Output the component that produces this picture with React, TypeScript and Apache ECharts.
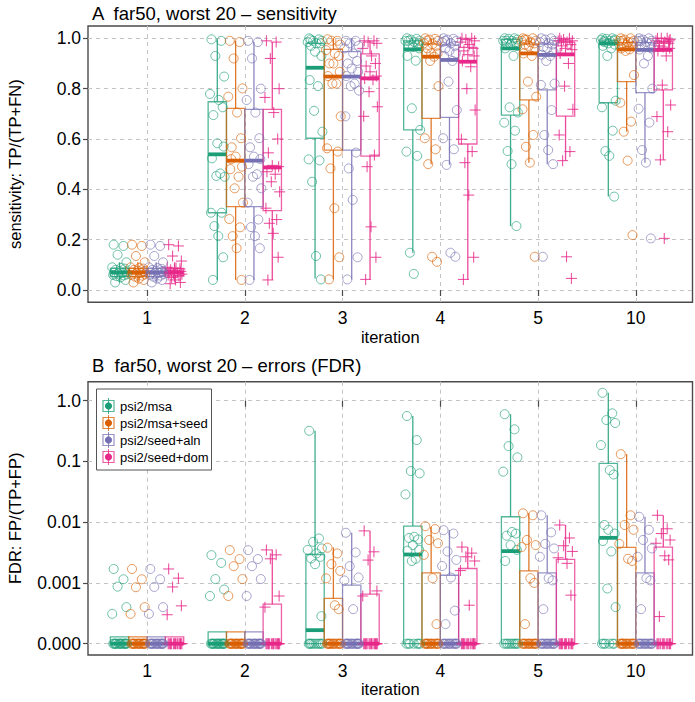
import React, { useEffect, useRef } from "react";
import * as echarts from "echarts";

// ---------- data ----------
const ITERATIONS = ["1", "2", "3", "4", "5", "10"];
const METHODS = ["psi2/msa", "psi2/msa+seed", "psi2/seed+aln", "psi2/seed+dom"];
const COLORS = ["#1B9E77", "#D95F02", "#7570B3", "#E7298A"];
const N_CASES = 20;

const SENS_TICKS = [0, 0.2, 0.4, 0.6, 0.8, 1.0];
const FDR_TICKS = [0, 0.001, 0.01, 0.1, 1.0];
const FDR_TICK_LABELS = ["0.000", "0.001", "0.01", "0.1", "1.0"];

// sensitivity values per iteration (20 worst cases)
const sensMsa = [
  [0.18, 0.175, 0.14, 0.11, 0.09, 0.088, 0.085, 0.08, 0.075, 0.072, 0.07, 0.068, 0.065, 0.062, 0.06, 0.058, 0.055, 0.05, 0.04, 0.03],
  [0.996, 0.99, 0.93, 0.848, 0.779, 0.755, 0.726, 0.695, 0.583, 0.57, 0.523, 0.463, 0.453, 0.45, 0.307, 0.307, 0.254, 0.214, 0.13, 0.04],
  [1.0, 0.996, 0.99, 0.99, 0.985, 0.98, 0.98, 0.97, 0.947, 0.93, 0.834, 0.81, 0.712, 0.629, 0.519, 0.515, 0.43, 0.135, 0.042, 0.995],
  [1.0, 0.998, 0.995, 0.99, 0.99, 0.985, 0.975, 0.97, 0.965, 0.96, 0.93, 0.911, 0.722, 0.636, 0.55, 0.533, 0.148, 0.064, 0.98, 0.99],
  [1.0, 1.0, 0.998, 0.995, 0.99, 0.99, 0.985, 0.98, 0.975, 0.97, 0.96, 0.93, 0.726, 0.705, 0.665, 0.633, 0.552, 0.5, 0.254, 0.99],
  [1.0, 1.0, 0.998, 0.995, 0.993, 0.99, 0.99, 0.985, 0.98, 0.975, 0.97, 0.96, 0.93, 0.752, 0.726, 0.633, 0.552, 0.533, 0.371, 0.99],
];
const sensMsaSeed = [
  [0.18, 0.175, 0.135, 0.11, 0.09, 0.088, 0.085, 0.08, 0.077, 0.074, 0.07, 0.068, 0.066, 0.062, 0.06, 0.057, 0.053, 0.045, 0.04, 0.03],
  [0.99, 0.985, 0.92, 0.801, 0.768, 0.705, 0.603, 0.567, 0.53, 0.49, 0.48, 0.45, 0.404, 0.347, 0.282, 0.249, 0.214, 0.166, 0.04, 0.52],
  [0.996, 0.99, 0.99, 0.975, 0.953, 0.94, 0.93, 0.9, 0.9, 0.867, 0.85, 0.82, 0.82, 0.69, 0.563, 0.55, 0.483, 0.325, 0.13, 0.042],
  [1.0, 0.998, 0.995, 0.99, 0.98, 0.977, 0.97, 0.96, 0.94, 0.94, 0.94, 0.927, 0.91, 0.81, 0.603, 0.559, 0.5, 0.132, 0.112, 0.99],
  [1.0, 1.0, 0.995, 0.99, 0.99, 0.985, 0.98, 0.975, 0.97, 0.96, 0.94, 0.93, 0.828, 0.768, 0.718, 0.616, 0.569, 0.506, 0.132, 0.995],
  [1.0, 1.0, 0.995, 0.99, 0.99, 0.985, 0.983, 0.98, 0.975, 0.97, 0.96, 0.956, 0.95, 0.854, 0.744, 0.669, 0.629, 0.514, 0.218, 0.99],
];
const sensSeedAln = [
  [0.18, 0.175, 0.135, 0.11, 0.09, 0.087, 0.084, 0.08, 0.077, 0.074, 0.07, 0.068, 0.066, 0.063, 0.06, 0.057, 0.053, 0.045, 0.04, 0.03],
  [0.99, 0.985, 0.92, 0.8, 0.755, 0.705, 0.603, 0.567, 0.53, 0.52, 0.5, 0.46, 0.45, 0.404, 0.347, 0.28, 0.25, 0.214, 0.166, 0.04],
  [0.99, 0.99, 0.98, 0.97, 0.96, 0.94, 0.91, 0.9, 0.88, 0.867, 0.85, 0.82, 0.81, 0.792, 0.69, 0.546, 0.483, 0.358, 0.13, 0.042],
  [1.0, 0.998, 0.995, 0.99, 0.985, 0.98, 0.97, 0.96, 0.95, 0.94, 0.93, 0.91, 0.828, 0.715, 0.603, 0.559, 0.497, 0.148, 0.132, 0.99],
  [1.0, 1.0, 0.995, 0.99, 0.985, 0.98, 0.975, 0.965, 0.96, 0.945, 0.935, 0.93, 0.91, 0.82, 0.815, 0.715, 0.616, 0.556, 0.5, 0.132],
  [1.0, 1.0, 0.995, 0.99, 0.99, 0.985, 0.98, 0.975, 0.97, 0.96, 0.955, 0.93, 0.9, 0.8, 0.72, 0.665, 0.556, 0.506, 0.205, 0.99],
];
const sensSeedDom = [
  [0.18, 0.175, 0.135, 0.115, 0.09, 0.087, 0.084, 0.08, 0.077, 0.074, 0.07, 0.068, 0.066, 0.063, 0.06, 0.057, 0.05, 0.04, 0.03, 0.025],
  [0.99, 0.985, 0.92, 0.8, 0.765, 0.705, 0.6, 0.545, 0.495, 0.49, 0.47, 0.46, 0.43, 0.39, 0.325, 0.28, 0.265, 0.225, 0.13, 0.04],
  [0.99, 0.99, 0.985, 0.98, 0.96, 0.93, 0.9, 0.89, 0.867, 0.85, 0.84, 0.835, 0.788, 0.728, 0.69, 0.536, 0.49, 0.251, 0.13, 0.042],
  [1.0, 1.0, 0.995, 0.99, 0.985, 0.975, 0.96, 0.95, 0.935, 0.93, 0.91, 0.887, 0.8, 0.715, 0.599, 0.55, 0.506, 0.377, 0.13, 0.042],
  [1.0, 1.0, 0.995, 0.99, 0.99, 0.985, 0.975, 0.97, 0.96, 0.955, 0.94, 0.9, 0.81, 0.718, 0.616, 0.55, 0.514, 0.132, 0.046, 0.99],
  [1.0, 1.0, 1.0, 0.995, 0.99, 0.985, 0.98, 0.97, 0.965, 0.96, 0.95, 0.93, 0.814, 0.735, 0.689, 0.629, 0.517, 0.205, 0.99, 0.98],
];

// sensitivity box stats per iteration: [whisker low, Q1, median, Q3, whisker high]
const sensBoxMsa = [
  [0.03, 0.053, 0.07, 0.086, 0.11],
  [0.04, 0.307, 0.539, 0.748, 0.996],
  [0.046, 0.603, 0.883, 0.98, 1.0],
  [0.148, 0.636, 0.956, 0.99, 1.0],
  [0.254, 0.695, 0.96, 0.996, 1.0],
  [0.371, 0.744, 0.98, 0.993, 1.0],
];
const sensBoxMsaSeed = [
  [0.03, 0.053, 0.07, 0.086, 0.11],
  [0.04, 0.331, 0.514, 0.722, 0.99],
  [0.042, 0.556, 0.848, 0.956, 1.0],
  [0.5, 0.682, 0.927, 0.977, 1.0],
  [0.506, 0.755, 0.94, 0.977, 1.0],
  [0.629, 0.828, 0.956, 0.983, 1.0],
];
const sensBoxSeedAln = [
  [0.03, 0.053, 0.07, 0.086, 0.11],
  [0.04, 0.331, 0.514, 0.718, 0.985],
  [0.042, 0.556, 0.848, 0.947, 1.0],
  [0.497, 0.686, 0.914, 0.973, 1.0],
  [0.5, 0.795, 0.934, 0.977, 1.0],
  [0.506, 0.784, 0.954, 0.983, 1.0],
];
const sensBoxSeedDom = [
  [0.03, 0.055, 0.07, 0.086, 0.11],
  [0.04, 0.315, 0.487, 0.718, 0.985],
  [0.042, 0.532, 0.841, 0.938, 0.99],
  [0.042, 0.58, 0.907, 0.964, 1.0],
  [0.514, 0.691, 0.936, 0.985, 1.0],
  [0.517, 0.795, 0.954, 0.987, 1.0],
];

// FDR: non-zero values per iteration (the rest of the 20 cases are 0)
const fdrMsa = [
  [0.0017, 0.00115, 0.00087, 0.0004, 0.00031],
  [0.00287, 0.00214, 0.00116, 0.00078, 0.00061],
  [0.32, 0.0054, 0.00475, 0.0037, 0.0035, 0.00306, 0.00269, 0.00253, 0.00204, 0.000284],
  [0.56, 0.225, 0.0695, 0.0637, 0.0287, 0.00575, 0.0052, 0.0055, 0.0042, 0.0035, 0.0034, 0.0025, 0.0023],
  [0.6, 0.338, 0.179, 0.117, 0.068, 0.0069, 0.0065, 0.006, 0.0042, 0.0035, 0.0023],
  [1.35, 0.62, 0.48, 0.43, 0.186, 0.072, 0.061, 0.009, 0.0075, 0.0065, 0.0049, 0.0033, 0.00081, 0.0004],
];
const fdrMsaSeed = [
  [0.0017, 0.00115, 0.00085, 0.0004, 0.00031],
  [0.00347, 0.00247, 0.00189, 0.00116, 0.00061],
  [0.0038, 0.00306, 0.00204, 0.00158, 0.00119, 0.00043, 0.00037],
  [0.0086, 0.0077, 0.0051, 0.0045, 0.0029, 0.0012, 0.00021],
  [0.014, 0.013, 0.0051, 0.0042, 0.0039, 0.0012, 0.001, 0.00021],
  [0.132, 0.013, 0.009, 0.0075, 0.0044, 0.0025, 0.0023],
];
const fdrSeedAln = [
  [0.0017, 0.00115, 0.00086, 0.0004, 0.00031],
  [0.00347, 0.00247, 0.00189, 0.00116, 0.00061],
  [0.0067, 0.00318, 0.00189, 0.00123, 0.0011, 0.00037],
  [0.0074, 0.0065, 0.0033, 0.0024, 0.0019, 0.00123, 0.00035, 0.00021],
  [0.013, 0.0068, 0.0044, 0.0037, 0.0027, 0.0012, 0.0011, 0.00037],
  [0.0123, 0.0075, 0.0051, 0.0037, 0.0027, 0.0012, 0.0011, 0.00037],
];
const fdrSeedDom = [
  [0.0017, 0.0012, 0.00086, 0.00042, 0.0003],
  [0.0035, 0.0029, 0.0025, 0.00061, 0.0004],
  [0.0072, 0.00326, 0.00238, 0.00074, 0.00061],
  [0.0039, 0.0031, 0.0027, 0.0023, 0.0016, 0.00043],
  [0.009, 0.0055, 0.0041, 0.0033, 0.0026, 0.0021, 0.00063],
  [0.013, 0.0078, 0.0065, 0.0051, 0.0045, 0.0028, 0.0024, 0.00028],
];

const fdrBoxMsa = [
  [0, 0, 0, 0.00013, 0.00013],
  [0, 0, 0, 0.000156, 0.000156],
  [0, 0, 0.000167, 0.00294, 0.32],
  [0, 0, 0.00294, 0.00863, 0.56],
  [0, 0, 0.00334, 0.0123, 0.6],
  [0, 0, 0.00553, 0.093, 1.35],
];
const fdrBoxMsaSeed = [
  [0, 0, 0, 0.00013, 0.00013],
  [0, 0, 0, 0.000156, 0.000156],
  [0, 0, 0, 0.000556, 0.00385],
  [0, 0, 0, 0.00147, 0.0084],
  [0, 0, 0, 0.00158, 0.014],
  [0, 0, 0, 0.00385, 0.132],
];
const fdrBoxSeedAln = [
  [0, 0, 0, 0.00013, 0.00013],
  [0, 0, 0, 0.000156, 0.000156],
  [0, 0, 0, 0.00092, 0.0067],
  [0, 0, 0, 0.00134, 0.0074],
  [0, 0, 0, 0.00147, 0.013],
  [0, 0, 0, 0.00147, 0.0123],
];
const fdrBoxSeedDom = [
  [0, 0, 0, 0.00013, 0.00013],
  [0, 0, 0, 0.000448, 0.00356],
  [0, 0, 0, 0.000654, 0.0072],
  [0, 0, 0, 0.00173, 0.0039],
  [0, 0, 0, 0.00244, 0.009],
  [0, 0, 0, 0.0039, 0.013],
];

// horizontal jitter pattern for the 20 cases (fraction of an iteration slot)
const JITTER = [-0.06, 0.04, -0.02, 0.07, -0.075, 0.015, 0.055, -0.04, 0.0, 0.065, -0.055, 0.03, -0.01, 0.075, -0.065, 0.045, -0.03, 0.01, 0.06, -0.045];

// ---------- layout / style ----------
const GROUP_OFFSETS = [-0.28125, -0.09375, 0.09375, 0.28125];
const BOX_WIDTH = 0.1875;
const X_MIN = 0.396;
const X_MAX = 6.58;
const FDR_FLOOR = 1e-4;
const FONT = "'Liberation Sans', Arial, Helvetica, sans-serif";

const fdrPos = (v: number) => Math.log10(Math.max(v, FDR_FLOOR));
const ident = (v: number) => v;

function rgba(hex: string, a: number) {
  const r = parseInt(hex.slice(1, 3), 16);
  const g = parseInt(hex.slice(3, 5), 16);
  const b = parseInt(hex.slice(5, 7), 16);
  return `rgba(${r},${g},${b},${a})`;
}

const SENS_POINTS = [sensMsa, sensMsaSeed, sensSeedAln, sensSeedDom];
const SENS_BOXES = [sensBoxMsa, sensBoxMsaSeed, sensBoxSeedAln, sensBoxSeedDom];
const FDR_POINTS = [fdrMsa, fdrMsaSeed, fdrSeedAln, fdrSeedDom].map((m) =>
  m.map((vals) => vals.concat(new Array(Math.max(0, N_CASES - vals.length)).fill(0)))
);
const FDR_BOXES = [fdrBoxMsa, fdrBoxMsaSeed, fdrBoxSeedAln, fdrBoxSeedDom];

function boxSeries(gi: number, g: number, stats: number[][], toPos: (v: number) => number) {
  const c = COLORS[g];
  return {
    type: "custom",
    name: METHODS[g],
    xAxisIndex: gi,
    yAxisIndex: gi,
    silent: true,
    z: 2,
    clip: false,
    encode: { x: 0, y: [1, 2, 3, 4, 5] },
    data: stats.map((s, i) => [i + 1 + GROUP_OFFSETS[g], ...s.map(toPos)]),
    renderItem: (_params: any, api: any) => {
      const x = api.value(0);
      const half = BOX_WIDTH / 2;
      const pl = api.coord([x - half, api.value(4)]);
      const pr = api.coord([x + half, api.value(2)]);
      const xc = api.coord([x, api.value(1)])[0];
      const yMin = api.coord([x, api.value(1)])[1];
      const yMed = api.coord([x, api.value(3)])[1];
      const yMax = api.coord([x, api.value(5)])[1];
      const xl = pl[0];
      const xr = pr[0];
      const yQ3 = pl[1];
      const yQ1 = pr[1];
      const wStyle = { stroke: rgba(c, 0.85), lineWidth: 1.3, fill: "none" };
      return {
        type: "group",
        children: [
          { type: "line", shape: { x1: xc, y1: yQ3, x2: xc, y2: yMax }, style: wStyle },
          { type: "line", shape: { x1: xc, y1: yQ1, x2: xc, y2: yMin }, style: wStyle },
          {
            type: "rect",
            shape: { x: xl, y: yQ3, width: xr - xl, height: Math.max(yQ1 - yQ3, 0.5) },
            style: { stroke: rgba(c, 0.75), lineWidth: 1.3, fill: "none" },
          },
          {
            type: "line",
            shape: { x1: xl, y1: yMed, x2: xr, y2: yMed },
            style: { stroke: c, lineWidth: 3.8 },
          },
        ],
      };
    },
  };
}

function pointData(groups: number[][], g: number, toPos: (v: number) => number) {
  const out: number[][] = [];
  groups.forEach((vals, i) => {
    vals.forEach((v, k) => {
      out.push([i + 1 + GROUP_OFFSETS[g] + JITTER[k % JITTER.length], toPos(v)]);
    });
  });
  return out;
}

function pointSeries(gi: number, g: number, groups: number[][], toPos: (v: number) => number) {
  const c = COLORS[g];
  const data = pointData(groups, g, toPos);
  if (g === 3) {
    return {
      type: "custom",
      name: METHODS[g],
      xAxisIndex: gi,
      yAxisIndex: gi,
      silent: true,
      z: 3,
      clip: false,
      encode: { x: 0, y: 1 },
      data,
      renderItem: (_params: any, api: any) => {
        const p = api.coord([api.value(0), api.value(1)]);
        const s = 5.5;
        const st = { stroke: rgba(c, 0.8), lineWidth: 1.1 };
        return {
          type: "group",
          children: [
            { type: "line", shape: { x1: p[0] - s, y1: p[1], x2: p[0] + s, y2: p[1] }, style: st },
            { type: "line", shape: { x1: p[0], y1: p[1] - s, x2: p[0], y2: p[1] + s }, style: st },
          ],
        };
      },
    };
  }
  return {
    type: "scatter",
    name: METHODS[g],
    xAxisIndex: gi,
    yAxisIndex: gi,
    silent: true,
    z: 3,
    symbol: "circle",
    symbolSize: 9,
    itemStyle: { color: "rgba(255,255,255,0)", borderColor: rgba(c, 0.8), borderWidth: 1 },
    data,
  };
}

function buildOption() {
  const series: any[] = [];
  for (let g = 0; g < 4; g++) {
    series.push(boxSeries(0, g, SENS_BOXES[g], ident));
    series.push(pointSeries(0, g, SENS_POINTS[g], ident));
    series.push(boxSeries(1, g, FDR_BOXES[g], fdrPos));
    series.push(pointSeries(1, g, FDR_POINTS[g], fdrPos));
  }

  const gridStyle = { show: true, borderColor: "#4a4a4a", borderWidth: 1.4, backgroundColor: "transparent" };
  const tickStyle = { color: "#4a4a4a", width: 1.2 };
  const splitStyle = { show: true, lineStyle: { color: "#c4c4c4", width: 1, type: [4, 4] } };
  const labelBase = { fontSize: 17.5, color: "#000", fontFamily: FONT };
  const nameBase = { fontSize: 16.5, color: "#000", fontFamily: FONT };
  const xTicks = ITERATIONS.map((_, i) => i + 1);

  const xAxis = [0, 1].map((gi) => ({
    type: "value",
    gridIndex: gi,
    min: X_MIN,
    max: X_MAX,
    axisLine: { show: false },
    axisTick: { show: true, customValues: xTicks, length: 6, lineStyle: tickStyle },
    axisLabel: {
      ...labelBase,
      customValues: xTicks,
      margin: 7,
      formatter: (v: number) => ITERATIONS[Math.round(v) - 1] ?? "",
    },
    splitLine: splitStyle,
    name: "iteration",
    nameLocation: "middle",
    nameGap: 22,
    nameTextStyle: nameBase,
  }));

  const fdrTickPos = FDR_TICKS.map(fdrPos);
  const yAxis = [
    {
      type: "value",
      gridIndex: 0,
      min: -0.0489,
      max: 1.0489,
      axisLine: { show: false },
      axisTick: { show: true, customValues: SENS_TICKS, length: 5, lineStyle: tickStyle },
      axisLabel: { ...labelBase, customValues: SENS_TICKS, margin: 7, formatter: (v: number) => v.toFixed(1) },
      splitLine: splitStyle,
      name: "sensitivity: TP/(TP+FN)",
      nameLocation: "middle",
      nameGap: 65,
      nameTextStyle: nameBase,
    },
    {
      type: "value",
      gridIndex: 1,
      min: -4.186,
      max: 0.313,
      axisLine: { show: false },
      axisTick: { show: true, customValues: fdrTickPos, length: 5, lineStyle: tickStyle },
      axisLabel: {
        ...labelBase,
        customValues: fdrTickPos,
        margin: 7,
        formatter: (v: number) => {
          const idx = fdrTickPos.findIndex((t) => Math.abs(t - v) < 1e-6);
          return idx >= 0 ? FDR_TICK_LABELS[idx] : "";
        },
      },
      splitLine: splitStyle,
      name: "FDR: FP/(TP+FP)",
      nameLocation: "middle",
      nameGap: 65,
      nameTextStyle: nameBase,
    },
  ];

  // legend drawn as graphic (boxplot glyph + filled point)
  const legendX = 96.5;
  const legendY = 389;
  const legend: any[] = [
    {
      type: "rect",
      z: 100,
      shape: { x: legendX, y: legendY, width: 115, height: 81 },
      style: { fill: "#fff", stroke: "#555", lineWidth: 1 },
    },
  ];
  METHODS.forEach((m, g) => {
    const c = COLORS[g];
    legend.push({
      type: "group",
      z: 101,
      x: 108.5,
      y: 406 + 17 * g,
      children: [
        { type: "line", z: 101, shape: { x1: 0, y1: -8, x2: 0, y2: 8 }, style: { stroke: rgba(c, 0.8), lineWidth: 1 } },
        { type: "rect", z: 101, shape: { x: -5.5, y: -5.5, width: 11, height: 11 }, style: { fill: "none", stroke: rgba(c, 0.75), lineWidth: 1.2 } },
        { type: "circle", z: 102, shape: { cx: 0, cy: 0, r: 3.6 }, style: { fill: c } },
        {
          type: "text",
          z: 102,
          style: {
            text: m,
            x: 11.5,
            y: 0.5,
            fill: "#000",
            font: `13px ${FONT}`,
            align: "left",
            textAlign: "left",
            verticalAlign: "middle",
            textVerticalAlign: "middle",
          },
        },
      ],
    });
  });

  return {
    animation: false,
    backgroundColor: "#fff",
    textStyle: { fontFamily: FONT },
    title: [
      {
        text: "A  far50, worst 20 – sensitivity",
        left: 87,
        top: -1,
        textStyle: { fontSize: 18.5, fontWeight: "normal", color: "#000", fontFamily: FONT },
      },
      {
        text: "B  far50, worst 20 – errors (FDR)",
        left: 87,
        top: 351,
        textStyle: { fontSize: 18.5, fontWeight: "normal", color: "#000", fontFamily: FONT },
      },
    ],
    grid: [
      { left: 88, top: 26, width: 604.5, height: 276.3, outerBoundsMode: "none", containLabel: false, ...gridStyle },
      { left: 88, top: 381.7, width: 604.5, height: 273.3, outerBoundsMode: "none", containLabel: false, ...gridStyle },
    ],
    xAxis,
    yAxis,
    series,
    graphic: legend,
  };
}

export default function App() {
  const ref = useRef<HTMLDivElement | null>(null);
  useEffect(() => {
    if (!ref.current) return;
    const chart = echarts.init(ref.current, undefined, { renderer: "svg" });
    chart.setOption(buildOption() as any);
    return () => chart.dispose();
  }, []);
  return (
    <div
      ref={ref}
      style={{ position: "absolute", left: 0, top: 0, width: 695, height: 702, background: "#fff" }}
    />
  );
}
